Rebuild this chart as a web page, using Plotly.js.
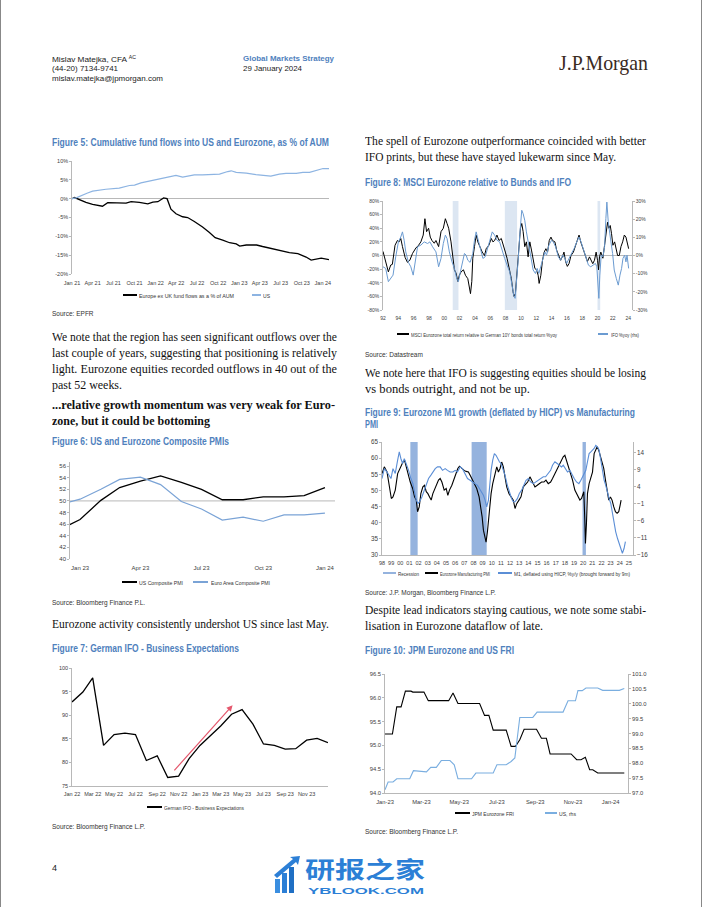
<!DOCTYPE html>
<html><head><meta charset="utf-8">
<script src="https://cdn.plot.ly/plotly-3.0.1.min.js"></script>
<style>
html,body{margin:0;padding:0;background:#fff;}
#page{position:relative;width:702px;height:907px;overflow:hidden;background:#fff;}
.t{position:absolute;white-space:nowrap;transform-origin:0 50%;line-height:1;}
.hdr{font:8px 'Liberation Sans',Arial,sans-serif;color:#222;}
.hdrb{font:bold 8px 'Liberation Sans',Arial,sans-serif;color:#4f81bd;}
.body{font:11.5px 'Liberation Serif','Times New Roman',serif;color:#111;}
.bodyb{font:bold 11.5px 'Liberation Serif','Times New Roman',serif;color:#111;}
.ft{font:bold 10px 'Liberation Sans',Arial,sans-serif;color:#4f81bd;}
.src{font:6.5px 'Liberation Sans',Arial,sans-serif;color:#333;}
.leg{font:5px 'Liberation Sans',Arial,sans-serif;color:#333;}
.jpm{font:21px 'Liberation Serif','Times New Roman',serif;color:#3a2a1e;}
.pg{font:9px 'Liberation Sans',Arial,sans-serif;color:#222;}
.wm1{font:bold 23px 'Noto Sans CJK SC',sans-serif;color:#2c7fd6;line-height:1;}
.wm2{font:bold 9.5px 'Liberation Sans',Arial,sans-serif;color:#2c7fd6;}
.sw{position:absolute;}
sup{font-size:5px;vertical-align:3px;}
</style></head>
<body><div id="page"></div>
<script>
// ---------------- DATA ----------------
// Figure 5: cumulative fund flows, % of AUM
const fig5EuroDates = ['2021-01-01','2021-01-12','2021-03-03','2021-04-01','2021-05-14','2021-06-06','2021-08-25','2021-09-16','2021-10-22','2021-11-28','2021-12-20','2022-01-11','2022-02-05','2022-02-20','2022-03-09','2022-03-31','2022-04-29','2022-05-21','2022-06-19','2022-07-25','2022-08-24','2022-09-18','2022-10-21','2022-11-20','2022-12-19','2023-01-03','2023-02-01','2023-03-18','2023-04-13','2023-05-26','2023-07-02','2023-08-08','2023-09-14','2023-10-20','2023-11-11','2023-12-10','2023-12-25','2024-01-28'];
const fig5EuroVals = [0,0.3,-1.0,-1.5,-2.0,-1.05,-1.2,-0.8,-1.0,-1.4,-0.9,-0.8,0.2,0.0,-2.8,-4.0,-4.8,-5.0,-6.05,-7.5,-9.0,-10.35,-11.0,-11.7,-12.0,-12.6,-12.3,-12.3,-12.7,-13.3,-13.8,-14.3,-14.6,-15.5,-16.3,-16.0,-15.8,-16.2];
const fig5UsDates = ['2021-01-01','2021-01-19','2021-03-10','2021-04-01','2021-05-29','2021-07-26','2021-09-09','2021-10-01','2021-10-29','2021-12-05','2022-01-04','2022-02-02','2022-03-01','2022-03-31','2022-04-29','2022-05-28','2022-06-19','2022-07-25','2022-09-08','2022-10-07','2022-11-12','2022-11-27','2022-12-19','2023-02-01','2023-03-15','2023-04-13','2023-05-19','2023-06-25','2023-07-24','2023-09-07','2023-10-06','2023-11-04','2023-12-03','2024-01-02','2024-01-28'];
const fig5UsVals = [0,0.2,1.5,2.0,2.5,2.8,3.5,3.6,4.2,4.7,5.2,5.5,5.8,6.2,5.7,6.0,6.3,6.3,6.5,6.5,7.2,7.4,7.0,6.8,6.4,6.3,6.0,6.5,6.7,6.7,7.0,7.0,7.5,8.0,8.0];
const fig5TickVals = ['2021-01-01','2021-04-01','2021-07-01','2021-10-01','2022-01-01','2022-04-01','2022-07-01','2022-10-01','2023-01-01','2023-04-01','2023-07-01','2023-10-01','2024-01-01'];
const fig5TickText = ['Jan 21','Apr 21','Jul 21','Oct 21','Jan 22','Apr 22','Jul 22','Oct 22','Jan 23','Apr 23','Jul 23','Oct 23','Jan 24'];
const fig5YTicks = [-20,-15,-10,-5,0,5,10];
const fig5YText = ['-20%','-15%','-10%','-5%','0%','5%','10%'];

// Figure 6: composite PMIs
const fig6Months = ['2022-12-01','2023-01-01','2023-02-01','2023-03-01','2023-04-01','2023-05-01','2023-06-01','2023-07-01','2023-08-01','2023-09-01','2023-10-01','2023-11-01','2023-12-01','2024-01-01'];
const fig6Us = [45.0,46.8,50.1,52.3,53.4,54.3,53.2,52.0,50.2,50.2,50.7,50.7,50.9,52.3];
const fig6Ea = [49.3,50.3,52.0,53.7,54.1,52.8,49.9,48.6,46.7,47.2,46.5,47.6,47.6,47.9];
const fig6TickVals = ['2023-01-01','2023-04-01','2023-07-01','2023-10-01','2024-01-01'];
const fig6TickText = ['Jan 23','Apr 23','Jul 23','Oct 23','Jan 24'];

// Figure 7: German IFO business expectations
const fig7Months = ['2022-01-01','2022-02-01','2022-03-01','2022-04-01','2022-05-01','2022-06-01','2022-07-01','2022-08-01','2022-09-01','2022-10-01','2022-11-01','2022-12-01','2023-01-01','2023-02-01','2023-03-01','2023-04-01','2023-05-01','2023-06-01','2023-07-01','2023-08-01','2023-09-01','2023-10-01','2023-11-01','2023-12-01','2024-01-01'];
const fig7Ifo = [92.8,94.9,97.9,83.6,85.9,86.2,85.9,80.4,81.4,76.8,77.1,80.8,83.6,85.7,87.7,90.2,91.2,88.1,83.9,83.6,82.8,82.9,84.7,85.1,84.2];
const fig7TickVals = ['2022-01-01','2022-03-01','2022-05-01','2022-07-01','2022-09-01','2022-11-01','2023-01-01','2023-03-01','2023-05-01','2023-07-01','2023-09-01','2023-11-01'];
const fig7TickText = ['Jan 22','Mar 22','May 22','Jul 22','Sep 22','Nov 22','Jan 23','Mar 23','May 23','Jul 23','Sep 23','Nov 23'];
const fig7ArrowFrom = ['2022-10-16', 78.0];
const fig7ArrowTo = ['2023-04-04', 92.1];

// Figure 8: MSCI Eurozone rel. to Bunds (%yoy) and IFO (%yoy, rhs)
const fig8MsciX = [1992.00,1992.26,1992.57,1992.70,1993.01,1993.22,1993.57,1993.88,1994.10,1994.32,1994.54,1994.89,1995.19,1995.50,1995.85,1996.29,1996.64,1996.94,1997.25,1997.47,1997.69,1997.95,1998.17,1998.39,1998.69,1998.91,1999.26,1999.57,1999.87,2000.14,2000.36,2000.57,2000.88,2001.10,2001.32,2001.54,2001.76,2001.97,2002.19,2002.50,2002.76,2003.07,2003.29,2003.42,2003.59,2003.72,2003.94,2004.16,2004.38,2004.60,2004.95,2005.25,2005.47,2005.82,2006.13,2006.35,2006.57,2006.87,2007.14,2007.44,2007.66,2007.97,2008.19,2008.45,2008.75,2008.97,2009.10,2009.28,2009.50,2009.72,2009.94,2010.11,2010.29,2010.50,2010.72,2010.94,2011.16,2011.38,2011.60,2011.82,2012.03,2012.25,2012.38,2012.60,2012.82,2013.04,2013.26,2013.48,2013.70,2013.92,2014.13,2014.44,2014.66,2014.97,2015.18,2015.40,2015.62,2015.84,2016.06,2016.28,2016.54,2016.85,2017.07,2017.37,2017.59,2017.81,2018.03,2018.25,2018.46,2018.68,2018.95,2019.17,2019.38,2019.60,2019.82,2020.00,2020.13,2020.26,2020.43,2020.70,2020.92,2021.13,2021.31,2021.48,2021.66,2021.83,2022.01,2022.23,2022.45,2022.62,2022.84,2023.06,2023.28,2023.50,2023.71,2023.85,2024.06];
const fig8MsciVals = [6,-4,-16,-24,-14,-13,15,22,20,25,13,-3,-10,-7,3,11,15,20,30,54,35,40,27,22,18,22,13,35,40,54,47,40,20,-4,-21,-26,-38,-29,-24,-21,-29,-34,-48,-56,-38,-4,13,30,20,13,5,0,10,15,25,20,22,30,22,25,18,5,-4,-16,-34,-53,-60,-56,-24,10,40,47,35,13,20,-2,20,8,-9,-19,-21,-29,-41,-29,-7,5,10,5,22,27,22,20,8,-2,-7,-2,5,-9,-16,-12,0,5,13,25,30,20,13,5,-2,-9,-2,-7,-12,-7,5,-7,-21,-2,5,-4,13,32,49,40,44,32,15,20,5,0,0,13,20,30,27,18,10];
const fig8IfoX = [1992.00,1992.35,1992.70,1993.01,1993.31,1993.66,1994.01,1994.32,1994.54,1994.76,1994.97,1995.32,1995.63,1995.94,1996.20,1996.51,1996.94,1997.38,1997.82,1998.12,1998.47,1998.91,1999.26,1999.57,1999.87,2000.14,2000.36,2000.66,2001.01,2001.32,2001.62,2001.84,2002.10,2002.41,2002.63,2002.85,2003.07,2003.37,2003.72,2003.94,2004.16,2004.38,2004.69,2005.04,2005.34,2005.69,2006.00,2006.26,2006.57,2006.87,2007.22,2007.57,2007.88,2008.19,2008.54,2008.84,2009.06,2009.24,2009.41,2009.63,2009.85,2010.11,2010.29,2010.50,2010.72,2010.94,2011.16,2011.38,2011.60,2011.90,2012.12,2012.34,2012.60,2012.91,2013.13,2013.35,2013.65,2014.00,2014.22,2014.53,2014.88,2015.18,2015.45,2015.75,2015.97,2016.28,2016.63,2016.94,2017.29,2017.59,2017.85,2018.16,2018.51,2018.81,2019.12,2019.47,2019.73,2019.91,2020.08,2020.17,2020.30,2020.48,2020.70,2020.92,2021.09,2021.22,2021.40,2021.57,2021.75,2021.97,2022.18,2022.45,2022.71,2022.93,2023.14,2023.32,2023.54,2023.71,2023.85,2024.06];
const fig8IfoVals = [-6.2,-7.1,-14.4,-12.6,-10.8,-0.7,7.5,10.2,13.0,8.4,2.0,-3.8,-6.2,-10.8,-3.5,4.8,5.7,7.5,6.6,7.5,4.8,2.0,-6.2,-1.6,6.6,11.2,9.3,2.0,-3.5,-7.1,-12.6,-14.4,-9.0,-3.5,1.1,0.2,-2.6,-3.8,1.1,8.4,13.0,9.3,4.8,-1.6,-0.7,4.8,9.3,13.0,11.2,8.4,7.5,2.0,-1.6,-5.3,-9.0,-16.3,-21.8,-23.6,-16.3,-3.5,11.2,24.9,23.0,19.4,13.0,7.5,2.0,-2.6,-8.0,-9.9,-7.1,-9.9,-6.2,-0.7,2.0,0.2,5.7,8.4,7.5,4.8,-0.7,-2.6,0.2,-1.6,-4.4,-1.6,1.1,3.8,7.5,10.2,7.5,2.9,-1.6,-5.3,-6.2,-5.3,-4.4,-6.2,-16.3,-23.6,-10.8,0.2,-0.7,4.8,20.3,29.4,18.5,11.2,7.5,1.1,-8.0,-12.6,-16.3,-10.8,-7.1,-1.6,0.2,-3.5,0.2,-7.1];
const fig8RecStart = [2001.10, 2007.90, 2020.00];
const fig8RecEnd = [2001.85, 2009.50, 2020.35];
const fig8TickYears = [1992,1994,1996,1998,2000,2002,2004,2006,2008,2010,2012,2014,2016,2018,2020,2022,2024];
const fig8TickLabels = ['92','94','96','98','00','02','04','06','08','10','12','14','16','18','20','22','24'];
const fig8YTicks = [-80,-60,-40,-20,0,20,40,60,80];
const fig8YText = ['-80%','-60%','-40%','-20%','0%','20%','40%','60%','80%'];
const fig8Y2Ticks = [-30,-20,-10,0,10,20,30];
const fig8Y2Text = ['-30%','-20%','-10%','0%','10%','20%','30%'];

// Figure 9: Eurozone manufacturing PMI vs real M1 growth (rhs)
const fig9PmiX = [1998.00,1998.25,1998.55,1998.84,1999.02,1999.20,1999.45,1999.71,1999.93,2000.11,2000.29,2000.47,2000.65,2000.84,2001.09,2001.35,2001.56,2001.75,2001.89,2002.07,2002.25,2002.47,2002.65,2002.84,2003.02,2003.20,2003.38,2003.56,2003.82,2004.00,2004.18,2004.36,2004.55,2004.80,2005.02,2005.20,2005.38,2005.64,2005.82,2006.07,2006.29,2006.47,2006.73,2006.98,2007.20,2007.45,2007.64,2007.89,2008.11,2008.36,2008.62,2008.80,2008.95,2009.09,2009.27,2009.38,2009.53,2009.75,2009.93,2010.11,2010.29,2010.55,2010.73,2010.91,2011.09,2011.27,2011.45,2011.64,2011.89,2012.11,2012.36,2012.55,2012.73,2012.98,2013.20,2013.45,2013.71,2013.93,2014.18,2014.44,2014.73,2014.98,2015.20,2015.45,2015.71,2015.93,2016.18,2016.44,2016.65,2016.91,2017.16,2017.38,2017.64,2017.82,2018.00,2018.18,2018.36,2018.62,2018.84,2019.09,2019.27,2019.45,2019.64,2019.82,2019.93,2020.07,2020.18,2020.25,2020.36,2020.47,2020.65,2020.84,2021.02,2021.20,2021.38,2021.53,2021.71,2021.89,2022.07,2022.25,2022.44,2022.62,2022.80,2022.98,2023.16,2023.35,2023.53,2023.71,2023.89,2024.04,2024.15];
const fig9PmiVals = [55.2,57.3,55.7,51.1,47.5,48.0,50.1,55.2,56.8,57.8,58.8,59.3,57.3,54.7,52.6,50.6,48.0,47.0,43.4,44.9,49.0,51.1,51.6,49.6,49.0,48.0,47.0,49.0,50.6,52.1,53.2,53.7,52.6,50.1,50.6,48.5,50.1,51.6,53.2,55.2,56.8,57.5,56.8,56.2,55.9,55.7,54.7,53.2,52.3,50.6,48.0,44.9,41.8,37.7,34.5,34.0,37.2,43.9,49.0,52.1,54.7,57.3,55.7,56.8,58.8,57.3,54.2,51.1,49.0,48.0,47.0,44.4,45.9,47.0,48.0,51.1,52.1,52.6,54.2,52.6,51.1,51.6,52.1,52.6,52.6,53.2,52.1,52.6,53.7,55.2,56.8,57.8,59.3,60.4,60.9,59.3,57.8,55.7,53.2,50.1,49.0,48.0,47.0,47.5,48.5,49.6,40.8,33.6,39.8,49.0,52.1,53.7,55.7,61.4,62.9,63.5,62.4,60.4,58.3,56.8,53.2,50.6,47.0,48.0,47.0,44.9,43.4,42.9,43.4,45.4,47.0];
const fig9M1X = [1998.00,1998.25,1998.55,1998.73,1998.98,1999.20,1999.45,1999.71,1999.89,2000.07,2000.25,2000.44,2000.65,2000.91,2001.16,2001.38,2001.56,2001.75,2001.93,2002.11,2002.36,2002.62,2002.84,2003.09,2003.35,2003.56,2003.82,2004.07,2004.36,2004.62,2004.91,2005.16,2005.45,2005.75,2006.00,2006.25,2006.55,2006.80,2007.09,2007.35,2007.64,2007.89,2008.18,2008.44,2008.65,2008.91,2009.09,2009.27,2009.45,2009.64,2009.75,2009.93,2010.11,2010.29,2010.47,2010.65,2010.84,2011.02,2011.20,2011.45,2011.71,2011.93,2012.18,2012.36,2012.55,2012.80,2013.02,2013.27,2013.53,2013.75,2014.00,2014.25,2014.55,2014.80,2015.09,2015.35,2015.64,2015.89,2016.18,2016.44,2016.65,2016.91,2017.16,2017.38,2017.64,2017.82,2018.07,2018.29,2018.55,2018.80,2019.02,2019.27,2019.53,2019.75,2019.93,2020.11,2020.29,2020.47,2020.65,2020.84,2021.02,2021.20,2021.38,2021.56,2021.75,2021.93,2022.11,2022.29,2022.47,2022.65,2022.84,2023.02,2023.20,2023.38,2023.56,2023.75,2023.93,2024.11,2024.29,2024.47,2024.62];
const fig9M1Vals = [6.4,9.3,8.3,7.4,6.4,9.3,7.9,11.8,14.2,12.2,10.8,12.2,10.8,8.8,6.4,4.9,2.5,0.1,-0.9,-0.4,1.0,3.0,4.4,6.4,7.4,8.3,9.3,9.8,9.8,8.8,9.3,8.8,8.3,8.3,8.8,8.3,9.8,9.3,7.9,6.4,5.9,5.4,4.9,4.4,3.5,2.5,1.5,0.1,-1.9,0.1,4.0,8.8,11.8,13.7,13.2,12.2,11.3,10.8,9.3,7.4,4.4,2.5,0.5,-0.4,-0.4,0.5,2.0,3.0,4.9,5.9,6.4,5.4,4.9,5.4,5.9,6.4,6.9,6.9,7.9,8.8,10.3,11.3,10.8,10.3,9.8,10.3,9.3,8.3,8.8,7.4,6.4,5.4,4.9,5.9,6.9,7.9,8.8,11.3,13.7,14.2,14.7,15.2,16.1,15.7,14.7,11.8,8.8,5.9,4.4,2.0,0.5,-0.9,-3.8,-6.8,-9.2,-11.1,-12.6,-14.1,-15.5,-14.1,-12.1];
const fig9RecStart = [2001.10, 2007.80, 2019.93];
const fig9RecEnd = [2001.90, 2009.45, 2020.30];
const fig9TickYears = [1998,1999,2000,2001,2002,2003,2004,2005,2006,2007,2008,2009,2010,2011,2012,2013,2014,2015,2016,2017,2018,2019,2020,2021,2022,2023,2024,2025];
const fig9TickLabels = ['98','99','00','01','02','03','04','05','06','07','08','09','10','11','12','13','14','15','16','17','18','19','20','21','22','23','24','25'];
const fig9YTicks = [30,35,40,45,50,55,60,65];
const fig9Y2Ticks = [-16,-11,-6,-1,4,9,14];

// Figure 10: JPM Eurozone FRI and US FRI (rhs)
const fig10EaDates = ['2023-01-01','2023-01-13','2023-01-20','2023-01-27','2023-02-03','2023-02-12','2023-02-15','2023-03-05','2023-03-12','2023-04-14','2023-04-21','2023-04-29','2023-06-03','2023-06-11','2023-06-18','2023-06-25','2023-07-16','2023-07-24','2023-07-31','2023-08-07','2023-08-14','2023-09-03','2023-09-11','2023-09-19','2023-09-25','2023-10-29','2023-11-07','2023-11-14','2023-11-21','2023-11-28','2023-12-03','2023-12-11','2024-01-23'];
const fig10EaVals = [95.24,95.24,95.81,95.81,96.14,96.14,96.12,96.12,95.94,95.94,96.10,95.88,95.88,95.63,95.63,95.32,95.32,94.98,94.98,95.12,95.34,95.34,95.15,95.15,94.82,94.82,94.70,94.70,94.75,94.49,94.49,94.42,94.42];
const fig10UsDates = ['2023-01-01','2023-01-06','2023-01-14','2023-01-20','2023-02-10','2023-02-16','2023-03-09','2023-03-16','2023-03-25','2023-04-02','2023-04-16','2023-04-23','2023-04-29','2023-05-21','2023-05-28','2023-06-25','2023-07-01','2023-07-16','2023-07-24','2023-07-30','2023-08-07','2023-08-28','2023-09-04','2023-10-16','2023-10-24','2023-11-05','2023-11-09','2023-11-16','2023-11-22','2023-12-11','2023-12-19','2024-01-15','2024-01-23'];
const fig10UsVals = [97.11,97.37,97.37,97.48,97.48,97.75,97.71,97.86,97.86,98.09,98.09,97.95,97.48,97.48,97.67,97.67,97.95,97.95,98.06,98.18,99.54,99.54,99.72,99.72,100.10,100.10,100.44,100.44,100.53,100.53,100.45,100.45,100.51];
const fig10TickVals = ['2023-01-01','2023-03-01','2023-05-01','2023-07-01','2023-09-01','2023-11-01','2024-01-01'];
const fig10TickText = ['Jan-23','Mar-23','May-23','Jul-23','Sep-23','Nov-23','Jan-24'];

// ---------------- PAGE ----------------
const page = document.getElementById('page');
const SIZES = {hdr:8,hdrb:8,body:11.5,bodyb:11.5,ft:10,src:6.5,leg:5,jpm:21,pg:9,wm1:23,wm2:9.5};
function addText(x,y,txt,cls,w){
  const d=document.createElement('div'); d.className='t '+cls; d.innerHTML=txt;
  d.style.left=x+'px'; d.style.top=(y-SIZES[cls]/2)+'px'; if(w) d.dataset.w=w; page.appendChild(d);
}
function addSwatch(x1,x2,y,color,th){
  const d=document.createElement('div'); d.className='sw';
  d.style.cssText=`position:absolute;left:${x1}px;top:${y-th/2}px;width:${x2-x1}px;height:${th}px;background:${color};`;
  page.appendChild(d);
}
function addBox(x,y,w,h,color){const d=document.createElement('div');d.style.cssText=`position:absolute;left:${x}px;top:${y}px;width:${w}px;height:${h}px;background:${color};`;page.appendChild(d);}
addBox(0,0,1,907,'#888'); addBox(701,0,1,907,'#888');

const texts = [
 [52,58,'Mislav Matejka, CFA <sup>AC</sup>','hdr',84],
 [52,68,'(44-20) 7134-9741','hdr',66],
 [52,78,'mislav.matejka@jpmorgan.com','hdr',111],
 [243,58,'Global Markets Strategy','hdrb',91],
 [243,68,'29 January 2024','hdr',59],
 [559,61,'J.P.Morgan','jpm',89],
 [52,142,'Figure 5: Cumulative fund flows into US and Eurozone, as % of AUM','ft',277],
 [52,313,'Source: EPFR','src'],
 [52,337,'We note that the region has seen significant outflows over the','body',285],
 [52,353,'last couple of years, suggesting that positioning is relatively','body',285],
 [52,369,'light. Eurozone equities recorded outflows in 40 out of the','body',285],
 [52,385,'past 52 weeks.','body',70],
 [52,405,'...relative growth momentum was very weak for Euro-','bodyb',283],
 [52,421,'zone, but it could be bottoming','bodyb',158],
 [52,441,'Figure 6: US and Eurozone Composite PMIs','ft',177],
 [52,602,'Source: Bloomberg Finance P.L.','src'],
 [52,624,'Eurozone activity consistently undershot US since last May.','body',277],
 [52,648,'Figure 7: German IFO - Business Expectations','ft',187],
 [52,826,'Source: Bloomberg Finance L.P.','src'],
 [52,867,'4','pg'],
 [365,141,'The spell of Eurozone outperformance coincided with better','body',281],
 [365,157,'IFO prints, but these have stayed lukewarm since May.','body',251],
 [365,182,'Figure 8: MSCI Eurozone relative to Bunds and IFO','ft',206],
 [365,354,'Source: Datastream','src'],
 [365,373,'We note here that IFO is suggesting equities should be losing','body',281],
 [365,389,'vs bonds outright, and not be up.','body',165],
 [365,412,'Figure 9: Eurozone M1 growth (deflated by HICP) vs Manufacturing','ft',270],
 [365,424,'PMI','ft',13],
 [365,592,'Source: J.P. Morgan, Bloomberg Finance L.P.','src'],
 [365,610,'Despite lead indicators staying cautious, we note some stabi-','body',281],
 [365,626,'lisation in Eurozone dataflow of late.','body',178],
 [365,650,'Figure 10: JPM Eurozone and US FRI','ft',149],
 [365,831,'Source: Bloomberg Finance L.P.','src'],
 // legends
 [139,295,'Europe ex UK fund flows as a % of AUM','leg',95],
 [263,295,'US','leg',7],
 [139,582,'US Composite PMI','leg',44],
 [211,582,'Euro Area Composite PMI','leg',59],
 [164,807,'German IFO - Business Expectations','leg',80],
 [411,334,'MSCI Eurozone total return relative to German 10Y bonds total return %yoy','leg',146],
 [611,334,'IFO %yoy (rhs)','leg',28],
 [398,573,'Recession','leg',21],
 [440,573,'Eurozone Manufacturing PMI','leg',50],
 [514,573,'M1, deflated using HICP, %y/y (brought forward by 9m)','leg',116],
 [472,813,'JPM Eurozone FRI','leg',42],
 [559,813,'US, rhs','leg',17],
 // watermark
 [305,868,'研报之家','wm1',120],
 [308,890,'YBLOOK.COM','wm2',116]
];
texts.forEach(t=>addText(...t));

addSwatch(123,137,295,'#000',1.3); addSwatch(252,261,295,'#8db4e2',1.2);
addSwatch(122,137,582,'#000',1.3); addSwatch(193,208,582,'#7aa3d6',1.2);
addSwatch(147,162,807,'#000',1.3);
addSwatch(397,409,334,'#000',1.2); addSwatch(598,608,334,'#6b9bd1',1.2);
addSwatch(383,396,573,'#95b3de',2.5); addSwatch(425,438,573,'#000',1.2); addSwatch(498,512,573,'#5b8ed6',1.2);
addSwatch(455,470,813,'#000',1.2); addSwatch(545,557,813,'#7aaee0',1.2);
// watermark icon
(function(){const s=document.createElementNS('http://www.w3.org/2000/svg','svg');
 s.setAttribute('width','30');s.setAttribute('height','40');s.style.cssText='position:absolute;left:273px;top:855px;';
 s.innerHTML='<rect x="2" y="24" width="5" height="14" fill="#3a8ee0"/><rect x="9" y="18" width="5" height="20" fill="#2c7fd6"/><rect x="16" y="12" width="5" height="26" fill="#1f6fc4"/><path d="M1 20 L20 4 L17 2 L27 1 L25 10 L23 7 L4 23 Z" fill="#2c7fd6"/>';
 page.appendChild(s);})();

function fitAll(){
  document.querySelectorAll('[data-w]').forEach(el=>{
    el.style.transform='none';
    const w=el.getBoundingClientRect().width; const t=+el.dataset.w;
    if(w>0) el.style.transform='scaleX('+(t/w)+')';
  });
}
fitAll();
if(document.fonts&&document.fonts.ready) document.fonts.ready.then(fitAll);

// ---------------- CHARTS ----------------
const AX='#a6a6a6';
function tf(s){return {family:"'Liberation Sans', Arial, sans-serif", size:s, color:'#404040'};}
function mk(left,top,w,h,margin,traces,extra){
  const d=document.createElement('div');
  d.style.cssText=`position:absolute;left:${left}px;top:${top}px;width:${w}px;height:${h}px;`;
  page.appendChild(d);
  const layout=Object.assign({width:w,height:h,margin:Object.assign({pad:0},margin),
    paper_bgcolor:'rgba(0,0,0,0)',plot_bgcolor:'rgba(0,0,0,0)',showlegend:false,
    font:tf(5.5)},extra);
  Plotly.newPlot(d,traces,layout,{staticPlot:true,displayModeBar:false});
}
function yAx(o){return Object.assign({showgrid:false,zeroline:false,showline:true,linecolor:AX,linewidth:0.8,
  ticks:'outside',ticklen:2,tickcolor:AX,tickwidth:0.8,automargin:false,fixedrange:true},o);}
function xAx(o){return Object.assign({showgrid:false,zeroline:false,showline:false,linecolor:AX,linewidth:0.8,
  ticks:'outside',ticklen:3,tickcolor:'rgba(0,0,0,0)',tickangle:0,automargin:false,fixedrange:true},o);}
function recShapes(starts,ends,color){
  return starts.map((s,i)=>({type:'rect',xref:'x',yref:'paper',x0:s,x1:ends[i],y0:0,y1:1,fillcolor:color,line:{width:0},layer:'below'}));
}

// Fig 5
mk(40,150,300,160,{l:32,r:11,t:11,b:36},[
  {x:fig5EuroDates,y:fig5EuroVals,type:'scatter',mode:'lines',line:{color:'#000',width:1.3}},
  {x:fig5UsDates,y:fig5UsVals,type:'scatter',mode:'lines',line:{color:'#8db4e2',width:1.2}}
],{
  xaxis:xAx({type:'date',range:['2021-01-01','2024-01-28'],tickvals:fig5TickVals,ticktext:fig5TickText,tickfont:tf(5.5)}),
  yaxis:yAx({range:[-20,10],tickvals:fig5YTicks,ticktext:fig5YText,zeroline:true,zerolinecolor:AX,zerolinewidth:0.8,tickfont:tf(5.5)})
});

// Fig 6
mk(40,455,300,120,{l:30,r:5,t:6.7,b:15.7},[
  {x:fig6Months,y:fig6Us,type:'scatter',mode:'lines',line:{color:'#000',width:1.3}},
  {x:fig6Months,y:fig6Ea,type:'scatter',mode:'lines',line:{color:'#7aa3d6',width:1.2}}
],{
  xaxis:xAx({type:'date',range:['2022-12-17','2024-01-16'],tickvals:fig6TickVals,ticktext:fig6TickText,tickfont:tf(6)}),
  yaxis:yAx({range:[40,56.7],tickvals:[40,42,44,46,48,50,52,54,56],tickfont:tf(6)}),
  shapes:[{type:'line',xref:'paper',yref:'y',x0:0,x1:1,y0:50,y1:50,line:{color:AX,width:0.8},layer:'below'}]
});

// Fig 7
mk(40,655,300,145,{l:31.7,r:12,t:12.7,b:14.3},[
  {x:fig7Months,y:fig7Ifo,type:'scatter',mode:'lines',line:{color:'#000',width:1.3}}
],{
  xaxis:xAx({type:'date',range:['2022-01-01','2024-01-01'],tickvals:fig7TickVals,ticktext:fig7TickText,showline:true,tickfont:tf(5.5)}),
  yaxis:yAx({range:[75,100],tickvals:[75,80,85,90,95,100],tickfont:tf(5.5)}),
  annotations:[{x:fig7ArrowTo[0],y:fig7ArrowTo[1],ax:fig7ArrowFrom[0],ay:fig7ArrowFrom[1],axref:'x',ayref:'y',xref:'x',yref:'y',
    text:'',showarrow:true,arrowhead:2,arrowsize:1,arrowwidth:1.2,arrowcolor:'rgba(225,60,85,0.85)'}]
});

// Fig 8
mk(360,190,300,140,{l:23.3,r:28.3,t:10.7,b:20},[
  {x:fig8MsciX,y:fig8MsciVals,type:'scatter',mode:'lines',line:{color:'#000',width:1}},
  {x:fig8IfoX,y:fig8IfoVals,type:'scatter',mode:'lines',yaxis:'y2',line:{color:'#6b9bd1',width:1}}
],{
  xaxis:xAx({range:[1992,2024.5],tickvals:fig8TickYears,ticktext:fig8TickLabels,tickfont:tf(5)}),
  yaxis:yAx({range:[-80,80],tickvals:fig8YTicks,ticktext:fig8YText,zeroline:true,zerolinecolor:AX,zerolinewidth:0.8,tickfont:tf(5)}),
  yaxis2:yAx({range:[-30,30],tickvals:fig8Y2Ticks,ticktext:fig8Y2Text,overlaying:'y',side:'right',tickfont:tf(5)}),
  shapes:recShapes(fig8RecStart,fig8RecEnd,'#dce6f2')
});

// Fig 9
mk(360,432,300,140,{l:21.7,r:26.7,t:9.7,b:17},[
  {x:fig9PmiX,y:fig9PmiVals,type:'scatter',mode:'lines',line:{color:'#000',width:1.1}},
  {x:fig9M1X,y:fig9M1Vals,type:'scatter',mode:'lines',yaxis:'y2',line:{color:'#5b8ed6',width:1.1}}
],{
  xaxis:xAx({range:[1998,2025.45],tickvals:fig9TickYears,ticktext:fig9TickLabels,showline:true,tickfont:tf(5.5)}),
  yaxis:yAx({range:[30,65],tickvals:fig9YTicks,tickfont:tf(6.3)}),
  yaxis2:yAx({range:[-16,17.1],tickvals:fig9Y2Ticks,overlaying:'y',side:'right',tickfont:tf(6.3)}),
  shapes:recShapes(fig9RecStart,fig9RecEnd,'#95b3de')
});

// Fig 10
mk(360,660,300,150,{l:25,r:31.7,t:14.3,b:16.7},[
  {x:fig10EaDates,y:fig10EaVals,type:'scatter',mode:'lines',line:{color:'#000',width:1.1}},
  {x:fig10UsDates,y:fig10UsVals,type:'scatter',mode:'lines',yaxis:'y2',line:{color:'#7aaee0',width:1.1}}
],{
  xaxis:xAx({type:'date',range:['2023-01-01','2024-01-29'],tickvals:fig10TickVals,ticktext:fig10TickText,showline:true,tickfont:tf(5.8)}),
  yaxis:yAx({range:[94,96.5],tickvals:[94,94.5,95,95.5,96,96.5],tickformat:'.1f',tickfont:tf(5.8)}),
  yaxis2:yAx({range:[97,101],tickvals:[97,97.5,98,98.5,99,99.5,100,100.5,101],tickformat:'.1f',overlaying:'y',side:'right',tickfont:tf(5.8)})
});
</script>
</body></html>
